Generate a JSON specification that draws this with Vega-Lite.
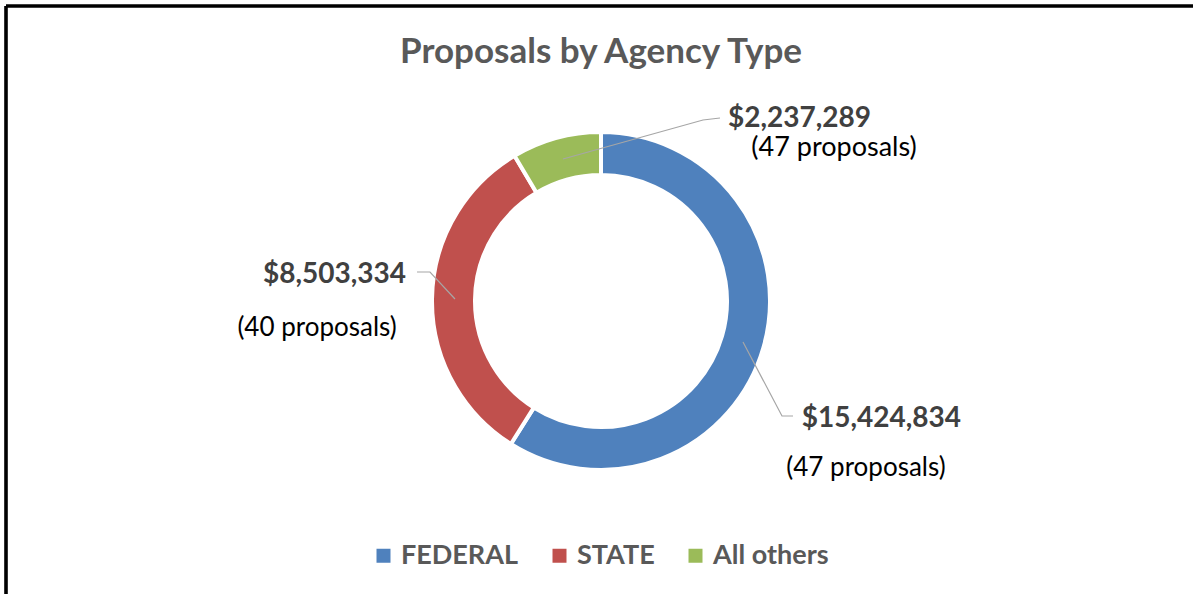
{
  "$schema": "https://vega.github.io/schema/vega-lite/v6.json",
  "width": 1190,
  "height": 590,
  "autosize": {"type": "none"},
  "padding": {"left": 6, "top": 6, "right": -3, "bottom": -2},
  "background": "white",
  "view": {"stroke": "black", "strokeWidth": 3.6, "fill": "white", "strokeDash": [1190, 1780, 590, 0]},
  "title": {"text": "Proposals by Agency Type", "font": "Lato", "fontSize": 35, "fontWeight": "bold", "color": "#595959", "anchor": "middle", "offset": -64},
  "data": {"values": [
    {"type": "FEDERAL", "amount": 15424834, "proposals": 47},
    {"type": "STATE", "amount": 8503334, "proposals": 40},
    {"type": "All others", "amount": 2237289, "proposals": 47}
  ]},
  "transform": [{"calculate": "'(' + datum.proposals + ' proposals)'", "as": "count_label"}],
  "layer": [
    {
      "mark": {"type": "arc", "innerRadius": 126, "outerRadius": 169, "stroke": "white", "strokeWidth": 4},
      "encoding": {
        "theta": {"field": "amount", "type": "quantitative", "stack": true},
        "order": {"field": "amount", "type": "quantitative", "sort": "descending"},
        "color": {
          "field": "type", "type": "nominal",
          "sort": ["FEDERAL", "STATE", "All others"],
          "scale": {"domain": ["FEDERAL", "STATE", "All others"], "range": ["#4F81BD", "#C0504D", "#9BBB59"]},
          "legend": {"orient": "none", "legendX": 364, "legendY": 536, "direction": "horizontal", "title": null, "symbolType": "square", "symbolSize": 196, "symbolStrokeWidth": 0, "labelFont": "Lato", "labelFontSize": 27, "labelFontWeight": "bold", "labelColor": "#595959", "labelOffset": 4, "columnPadding": 27}
        }
      }
    },
    {
      "transform": [{"filter": "datum.type === 'FEDERAL'"}],
      "mark": {"type": "point", "shape": "M0.4733,0.1367L0.6033,0.3833L0.64,0.3833M-0.4867,-0.0067L-0.57,-0.0967L-0.6133,-0.0967M-0.1267,-0.4733L0.34,-0.6033L0.3967,-0.61", "size": 360000, "filled": false, "stroke": "#A6A6A6", "strokeWidth": 1.2, "opacity": 1},
      "encoding": {}
    },
    {
      "mark": {"type": "text", "radius": 215, "font": "Lato", "fontSize": 28, "fontWeight": "bold", "color": "#404040", "align": "center", "baseline": "alphabetic", "dx": 73.9, "dy": 66.3},
      "encoding": {
        "theta": {"field": "amount", "type": "quantitative", "stack": true},
        "order": {"field": "amount", "type": "quantitative", "sort": "descending"},
        "text": {"condition": {"test": "datum.type === 'FEDERAL'", "field": "amount", "type": "quantitative", "format": "$,.0f"}, "value": ""}
      }
    },
    {
      "mark": {"type": "text", "radius": 215, "font": "Lato", "fontSize": 26, "color": "#000000", "align": "center", "baseline": "alphabetic", "dx": 58.4, "dy": 115.3},
      "encoding": {
        "theta": {"field": "amount", "type": "quantitative", "stack": true},
        "order": {"field": "amount", "type": "quantitative", "sort": "descending"},
        "text": {"condition": {"test": "datum.type === 'FEDERAL'", "field": "count_label", "type": "nominal"}, "value": ""}
      }
    },
    {
      "mark": {"type": "text", "radius": 215, "font": "Lato", "fontSize": 28, "fontWeight": "bold", "color": "#404040", "align": "center", "baseline": "alphabetic", "dx": -51.5, "dy": -15.3},
      "encoding": {
        "theta": {"field": "amount", "type": "quantitative", "stack": true},
        "order": {"field": "amount", "type": "quantitative", "sort": "descending"},
        "text": {"condition": {"test": "datum.type === 'STATE'", "field": "amount", "type": "quantitative", "format": "$,.0f"}, "value": ""}
      }
    },
    {
      "mark": {"type": "text", "radius": 215, "font": "Lato", "fontSize": 26, "color": "#000000", "align": "center", "baseline": "alphabetic", "dx": -69, "dy": 37.7},
      "encoding": {
        "theta": {"field": "amount", "type": "quantitative", "stack": true},
        "order": {"field": "amount", "type": "quantitative", "sort": "descending"},
        "text": {"condition": {"test": "datum.type === 'STATE'", "field": "count_label", "type": "nominal"}, "value": ""}
      }
    },
    {
      "mark": {"type": "text", "radius": 215, "font": "Lato", "fontSize": 28, "fontWeight": "bold", "color": "#404040", "align": "center", "baseline": "alphabetic", "dx": 255.6, "dy": 33.3},
      "encoding": {
        "theta": {"field": "amount", "type": "quantitative", "stack": true},
        "order": {"field": "amount", "type": "quantitative", "sort": "descending"},
        "text": {"condition": {"test": "datum.type === 'All others'", "field": "amount", "type": "quantitative", "format": "$,.0f"}, "value": ""}
      }
    },
    {
      "mark": {"type": "text", "radius": 215, "font": "Lato", "fontSize": 27, "color": "#000000", "align": "center", "baseline": "alphabetic", "dx": 290.1, "dy": 62.3},
      "encoding": {
        "theta": {"field": "amount", "type": "quantitative", "stack": true},
        "order": {"field": "amount", "type": "quantitative", "sort": "descending"},
        "text": {"condition": {"test": "datum.type === 'All others'", "field": "count_label", "type": "nominal"}, "value": ""}
      }
    }
  ]
}
